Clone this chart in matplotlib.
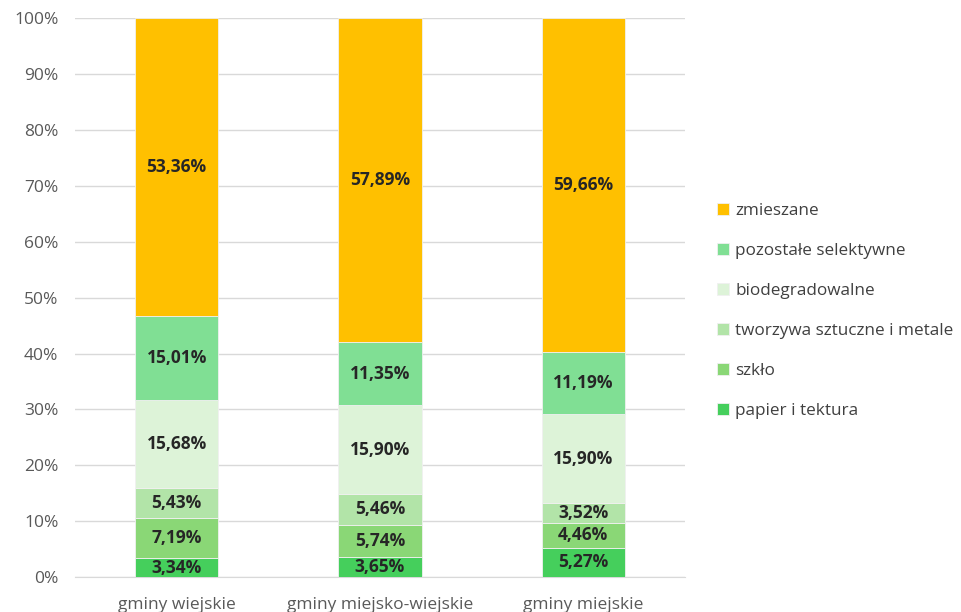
import numpy as np
import matplotlib.pyplot as plt

plt.rcParams['font.family'] = ['Open Sans', 'DejaVu Sans']

## Data
categories = ["gminy wiejskie", "gminy miejsko-wiejskie", "gminy miejskie"]
series = ["papier i tektura", "szkło", "tworzywa sztuczne i metale",
          "biodegradowalne", "pozostałe selektywne", "zmieszane"]
papier = [3.34, 3.65, 5.27]
szklo = [7.19, 5.74, 4.46]
tworzywa = [5.43, 5.46, 3.52]
bio = [15.68, 15.90, 15.90]
pozostale = [15.01, 11.35, 11.19]
zmieszane = [53.36, 57.89, 59.66]
values = [papier, szklo, tworzywa, bio, pozostale, zmieszane]
colors = ["#45CF5C", "#8AD776", "#B2E4A8", "#DDF3D8", "#80DF94", "#FFC000"]

fig = plt.figure(figsize=(9.62, 6.12), dpi=100)
ax = fig.add_axes([0.078, 0.057, 0.634, 0.913])

x = np.arange(len(categories))
bottom = np.zeros(len(categories))
handles = []
for name, vals, col in zip(series, values, colors):
    vals = np.array(vals)
    b = ax.bar(x, vals, 0.41, bottom=bottom, color=col, label=name,
               edgecolor="#f0f0f0", linewidth=0.6, zorder=3)
    handles.append(b)
    for xi, v, bt in zip(x, vals, bottom):
        ax.text(xi, bt + v / 2, f"{v:.2f}%".replace(".", ","), ha="center",
                va="center", fontsize=12.5, fontweight="bold", color="#262626", zorder=4)
    bottom += vals

ax.set_xlim(-0.5, 2.5)
ax.set_ylim(0, 100)
ax.set_yticks(np.arange(0, 101, 10))
ax.set_yticklabels([f"{t}%" for t in range(0, 101, 10)])
ax.set_xticks(x)
ax.set_xticklabels(categories)
ax.tick_params(axis="both", length=0, labelsize=12.5, colors="#595959")
ax.tick_params(axis="x", pad=14)
ax.tick_params(axis="y", pad=12)
ax.grid(axis="y", color="#d9d9d9", linewidth=1, zorder=0)
for s in ["top", "right", "left"]:
    ax.spines[s].set_visible(False)
ax.spines["bottom"].set_color("#d9d9d9")

leg = fig.legend(handles[::-1], series[::-1], loc="center left",
                 bbox_to_anchor=(0.729, 0.492), frameon=False, fontsize=12.3,
                 handlelength=0.7, handleheight=0.7, handletextpad=0.4,
                 labelspacing=1.4, labelcolor="#404040")

fig.savefig("out.png", dpi=100)
